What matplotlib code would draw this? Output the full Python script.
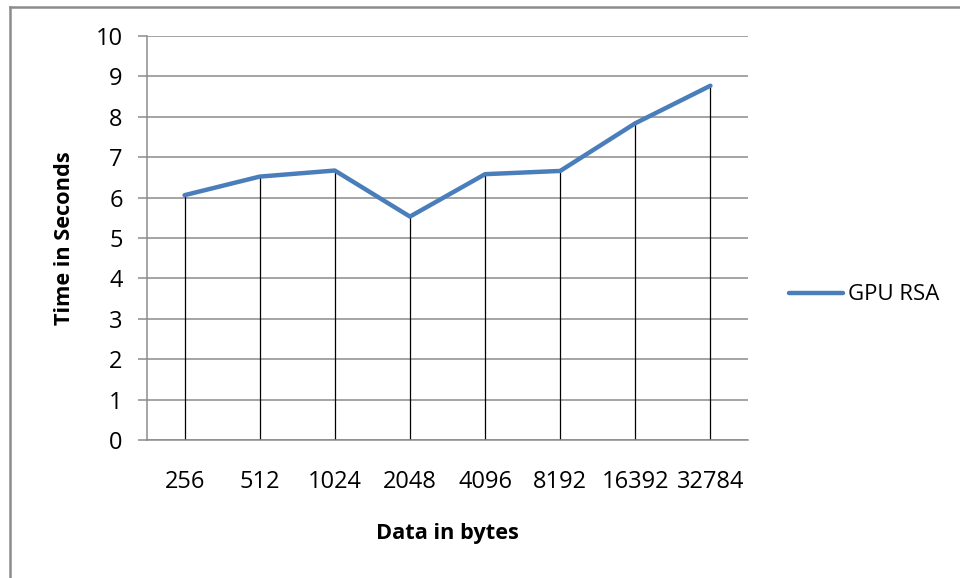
import matplotlib
matplotlib.use("Agg")
import matplotlib.pyplot as plt
from matplotlib.lines import Line2D

categories = ["256", "512", "1024", "2048", "4096", "8192", "16392", "32784"]
gpu_rsa = [6.06, 6.52, 6.67, 5.53, 6.58, 6.66, 7.84, 8.77]
y_ticks = list(range(0, 11))

plt.rcParams['font.family'] = ['Open Sans', 'DejaVu Sans']

fig = plt.figure(figsize=(9.6, 5.78), dpi=100)
ax = fig.add_axes([147/960, 1-440/578, 601/960, 404/578])

x = list(range(len(categories)))
line, = ax.plot(x, gpu_rsa, color="#4A7EBB", lw=3.2, solid_capstyle="round",
                solid_joinstyle="round", zorder=3, label="GPU RSA")
ax.vlines(x, 0, gpu_rsa, color="black", lw=0.9, zorder=2)

ax.set_xlim(-0.5, len(categories) - 0.5)
ax.set_ylim(0, 10)
ax.set_yticks(y_ticks)
ax.set_xticks(x)
ax.set_xticklabels(categories)
ax.grid(axis="y", color="#8c8c8c", lw=1.1)
ax.set_axisbelow(True)
for s in ["top", "right"]:
    ax.spines[s].set_visible(False)
for s in ["left", "bottom"]:
    ax.spines[s].set_color("#8c8c8c")
    ax.spines[s].set_linewidth(1.1)
ax.tick_params(axis="y", length=6.5, width=1.1, color="#8c8c8c", labelsize=17, pad=11)
ax.tick_params(axis="x", length=0, labelsize=17, pad=21.5)

ax.set_xlabel("Data in bytes", fontsize=15.7, fontweight="bold", labelpad=21)
ax.set_ylabel("Time in Seconds", fontsize=15.7, fontweight="bold", labelpad=15)

fig.legend(handles=[line], labels=["GPU RSA"], loc="center left",
           bbox_to_anchor=(789/960, 1-295/578), frameon=False, fontsize=16,
           handlelength=2.45, handletextpad=0.22, borderaxespad=0, borderpad=0)

fig.add_artist(Line2D([9.5/960, 9.5/960], [0, 1-6.5/578], transform=fig.transFigure,
                      color="#8c8c8c", lw=1.8))
fig.add_artist(Line2D([9.5/960, 1], [1-6.5/578, 1-6.5/578], transform=fig.transFigure,
                      color="#8c8c8c", lw=1.8))

fig.savefig("out.png", dpi=100)
